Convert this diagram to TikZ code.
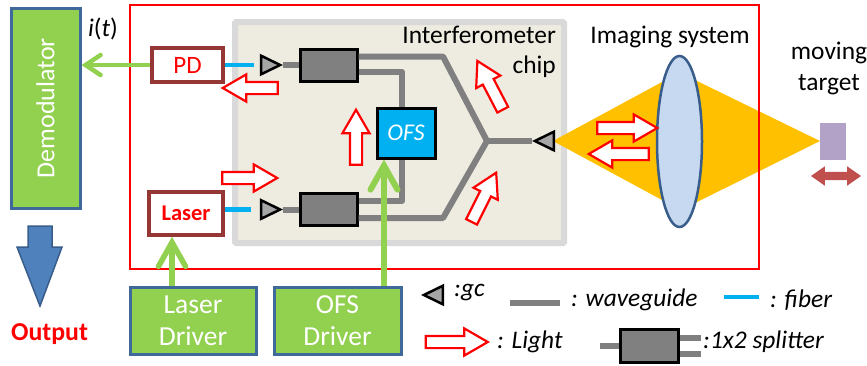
\documentclass[tikz,border=0pt]{standalone}
\usepackage{fontspec}
\setmainfont{Carlito}
\usetikzlibrary{arrows.meta,shapes.arrows,shapes.geometric}
\definecolor{wgray}{HTML}{808080}
\definecolor{fibercol}{HTML}{00B0F0}
\definecolor{drivergreen}{HTML}{92D050}
\definecolor{driverblue}{HTML}{3F689B}
\definecolor{sourcered}{HTML}{953735}
\definecolor{chipfill}{HTML}{EEECE1}
\definecolor{chipedge}{HTML}{D9D9D9}
\definecolor{beamcol}{HTML}{FFC000}
\definecolor{lensfill}{HTML}{C6D9F1}
\definecolor{lensedge}{HTML}{385D8A}
\definecolor{targetcol}{HTML}{B3A2C7}
\definecolor{movecol}{HTML}{C0504D}
\definecolor{outcol}{HTML}{4F81BD}
\tikzset{
    waveguide/.style={draw=wgray, line width=6pt, line join=round},
    fiber/.style={draw=fibercol, line width=4.5pt},
    signal/.style n args={3}{draw=drivergreen, line width=#3, -{Straight Barb[length=#1,width=#2,line cap=round]}},
    splitter/.style={draw=black, fill=wgray, line width=3pt, minimum width=57pt, minimum height=32pt, inner sep=0pt},
    source/.style={draw=sourcered, fill=white, line width=3.5pt, text=red, inner sep=0pt},
    driver/.style={draw=driverblue, fill=drivergreen, line width=3pt, text=white, align=center, inner sep=0pt, font=\fontsize{27.5}{32}\selectfont},
    gcoupler/.style={isosceles triangle, isosceles triangle apex angle=52, draw=black, fill=black!35, line width=2.5pt, inner sep=0pt, minimum height=19pt, anchor=apex},
    light/.style={single arrow, draw=red, fill=white, line width=2.2pt, inner xsep=0pt, inner ysep=5pt, outer sep=0pt, minimum height=55pt, minimum width=25pt, single arrow head extend=7.5pt, single arrow tip angle=60},
    label/.style={font=\fontsize{25.4}{30}\selectfont, align=center, inner sep=0pt},
    legend/.style={font=\itshape\fontsize{25.4}{25.4}\selectfont, anchor=west, inner sep=0pt},
}
\begin{document}
\begin{tikzpicture}[x=1pt,y=-1pt]
    \useasboundingbox (0,0) rectangle (867,365);
    % chip and beam
    \node[draw=chipedge, fill=chipfill, line width=6pt, rounded corners=1pt, minimum width=329pt, minimum height=221pt, inner sep=0pt] (chip) at (399.5,132.5) {};
    \fill[beamcol] (553,141) -- (662,82) -- (695,80) -- (820,141) -- (695,203) -- (662,200) -- cycle;
    \draw[red, line width=2.5pt] (130,5) rectangle (759,269);
    % boxes
    \node[draw=driverblue, fill=drivergreen, line width=3pt, minimum width=69pt, minimum height=200pt, inner sep=0pt] (demod) at (45.5,108) {};
    \node[rotate=90, text=white, font=\fontsize{26}{26}\selectfont, inner sep=0pt] (demodtext) at (45.5,108) {Demodulator};
    \node[source, minimum width=71pt, minimum height=34pt, font=\fontsize{25}{25}\selectfont] (pd) at (187.5,65) {PD};
    \node[source, minimum width=74pt, minimum height=43pt, font=\bfseries\fontsize{22.5}{22.5}\selectfont] (laser) at (186,213.5) {Laser};
    \node[driver, minimum width=126pt, minimum height=67pt] (laserdrv) at (193,320.5) {Laser\\Driver};
    \node[driver, minimum width=127pt, minimum height=67pt] (ofsdrv) at (337.5,320.5) {OFS\\Driver};
    \node[splitter] (splittop) at (328.5,65) {};
    \node[splitter] (splitbot) at (328.5,209.5) {};
    \node[gcoupler] (gcpd) at (283,65) {};
    \node[gcoupler] (gclaser) at (283,209.5) {};
    \node[gcoupler, shape border rotate=180] (gcout) at (532,141) {};
    \coordinate (joint) at (487,141);
    % waveguides
    \draw[waveguide] (gcpd.apex) -- (splittop.west);
    \draw[waveguide] (gclaser.apex) -- (splitbot.west);
    \draw[waveguide] ([yshift=8.5pt]splittop.east) -- (443,56.5) -- (joint);
    \draw[waveguide] ([yshift=-8.5pt]splitbot.east) -- (443,218) -- (joint);
    \draw[waveguide] (joint) -- (gcout.apex);
    \draw[waveguide] ([yshift=-7pt]splittop.east) -- (402,72) -- (402,201) -- ([yshift=8.5pt]splitbot.east);
    \node[draw=black, fill=fibercol, line width=3pt, minimum width=58pt, minimum height=50pt, inner sep=0pt, text=white, font=\itshape\fontsize{24}{24}\selectfont] (ofs) at (406,133) {OFS};
    \draw[fiber, shorten >=6pt] (pd.east) -- (gcpd.lower side);
    \draw[fiber, shorten >=9pt] (laser.east |- gclaser) -- (gclaser.lower side);
    \draw[signal={15pt}{20pt}{4.5pt}] (pd.west) -- (pd.west -| demod.east);
    \draw[signal={24pt}{27pt}{5.5pt}] (172,0 |- laserdrv.north) -- (172,0 |- laser.south);
    \draw[signal={24pt}{27pt}{6pt}] (384,0 |- ofsdrv.north) -- (384,0 |- ofs.south);
    % lens and target
    \node[ellipse, draw=lensedge, fill=lensfill, minimum width=45pt, minimum height=171pt, inner sep=0pt, line width=2.5pt] (lens) at (679.5,141.5) {};
    \node[fill=targetcol, minimum width=26pt, minimum height=37pt, inner sep=0pt] (target) at (833,141.5) {};
    \node[double arrow, fill=movecol, minimum height=50pt, minimum width=19pt, inner xsep=0pt, inner ysep=4pt, double arrow head extend=5.5pt, double arrow tip angle=70] (move) at (836,176) {};
    % light arrows
    \node[light, rotate=180] (l1) at (255.5,88) {};
    \node[light, rotate=90] (l2) at (356,142.5) {};
    \node[light] (l3) at (244.5,178) {};
    \node[light, rotate=117.5] (l4) at (492.5,90) {};
    \node[light, rotate=63.4] (l5) at (481.5,202) {};
    \node[light, minimum height=60pt] (l6) at (622,128) {};
    \node[light, minimum height=60pt, rotate=180] (l7) at (624,154) {};
    % texts
    \node[label, anchor=base east] (chiptext1) at (556,43) {Interferometer};
    \node[label, anchor=base east] (chiptext2) at (556,73) {chip};
    \node[label, anchor=base] (imaging) at (670,43) {Imaging system};
    \node[label, anchor=base] (movtext1) at (829,59) {moving};
    \node[label, anchor=base] (movtext2) at (829,90) {target};
    \node[label, anchor=base] (current) at (103,36) {\textit{i}(\textit{t})};
    \node[text=red, font=\bfseries\fontsize{25.8}{25.8}\selectfont, inner sep=0pt] (outtext) at (49.5,334) {Output};
    \draw[draw=lensedge, fill=outcol, line width=1.5pt] (28,226) -- (52,226) -- (52,247) -- (62,247) -- (40,306) -- (17,247) -- (28,247) -- cycle;
    % legend
    \node[gcoupler, shape border rotate=180] (leggc) at (421,295) {};
    \node[legend] at (454,293) {:gc};
    \coordinate (wgleft) at (510,303);
    \coordinate (wgright) at (560,303);
    \draw[waveguide] (wgleft) -- (wgright);
    \node[legend] at (571,300) {: waveguide};
    \coordinate (fbleft) at (724,297);
    \coordinate (fbright) at (759,297);
    \draw[fiber] (fbleft) -- (fbright);
    \node[legend] at (770,300) {: fiber};
    \node[light, minimum height=62pt] (leglight) at (451.5,342) {};
    \node[legend] at (497,342) {: Light};
    \coordinate (stub) at (600,345.5);
    \coordinate (stuba) at (701,338);
    \coordinate (stubb) at (701,354);
    \node[splitter, minimum width=58pt, minimum height=33pt] (legsplit) at (649,345.5) {};
    \draw[waveguide] (stub) -- (legsplit.west);
    \draw[waveguide] (legsplit.east |- stuba) -- (stuba);
    \draw[waveguide] (legsplit.east |- stubb) -- (stubb);
    \node[legend] at (703,342) {:1x2 splitter};
\end{tikzpicture}
\end{document}
